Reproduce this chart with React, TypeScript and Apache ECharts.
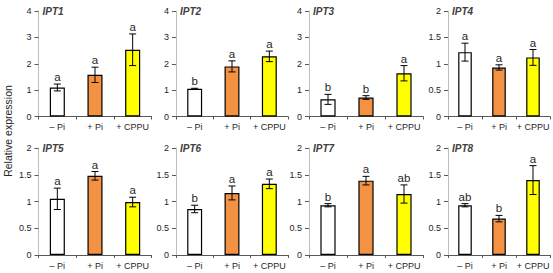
import React, { useEffect, useRef } from "react";
import * as echarts from "echarts";

const categories = ["– Pi", "+ Pi", "+ CPPU"];
const genes = ["IPT1", "IPT2", "IPT3", "IPT4", "IPT5", "IPT6", "IPT7", "IPT8"];

const ipt1Values = [1.1, 1.58, 2.53];
const ipt1Errors = [0.13, 0.29, 0.6];
const ipt1Letters = ["a", "a", "a"];

const ipt2Values = [1.05, 1.9, 2.28];
const ipt2Errors = [0.02, 0.21, 0.2];
const ipt2Letters = ["b", "a", "a"];

const ipt3Values = [0.65, 0.72, 1.64];
const ipt3Errors = [0.19, 0.07, 0.29];
const ipt3Letters = ["b", "b", "a"];

const ipt4Values = [1.22, 0.93, 1.12];
const ipt4Errors = [0.17, 0.05, 0.15];
const ipt4Letters = ["a", "a", "a"];

const ipt5Values = [1.05, 1.48, 0.99];
const ipt5Errors = [0.2, 0.08, 0.09];
const ipt5Letters = ["a", "a", "a"];

const ipt6Values = [0.86, 1.16, 1.33];
const ipt6Errors = [0.07, 0.13, 0.09];
const ipt6Letters = ["b", "a", "a"];

const ipt7Values = [0.93, 1.39, 1.14];
const ipt7Errors = [0.03, 0.08, 0.17];
const ipt7Letters = ["b", "a", "ab"];

const ipt8Values = [0.93, 0.68, 1.4];
const ipt8Errors = [0.03, 0.06, 0.27];
const ipt8Letters = ["ab", "b", "a"];

const yMaxes = [4, 4, 4, 2, 2, 2, 2, 2];
const yIntervals = [1, 1, 1, 0.5, 0.5, 0.5, 0.5, 0.5];

const allValues = [ipt1Values, ipt2Values, ipt3Values, ipt4Values, ipt5Values, ipt6Values, ipt7Values, ipt8Values];
const allErrors = [ipt1Errors, ipt2Errors, ipt3Errors, ipt4Errors, ipt5Errors, ipt6Errors, ipt7Errors, ipt8Errors];
const allLetters = [ipt1Letters, ipt2Letters, ipt3Letters, ipt4Letters, ipt5Letters, ipt6Letters, ipt7Letters, ipt8Letters];

const barColors = ["#ffffff", "#f39243", "#ffff00"];

const colLeft = [38.5, 176, 309, 448];
const colWidth = [113, 112, 114, 102];
const rowTop = [11, 148];
const rowHeight = [105.5, 107];

const FONT = "Liberation Sans, Arial, sans-serif";

export default function App() {
  const ref = useRef<HTMLDivElement>(null);
  useEffect(() => {
    if (!ref.current) return;
    const chart = echarts.init(ref.current, undefined, { renderer: "svg" });
    const grid: any[] = [];
    const xAxis: any[] = [];
    const yAxis: any[] = [];
    const series: any[] = [];
    const title: any[] = [];
    genes.forEach((g, i) => {
      const r = Math.floor(i / 4);
      const c = i % 4;
      grid.push({
        left: colLeft[c],
        top: rowTop[r],
        width: colWidth[c],
        height: rowHeight[r],
        containLabel: false,
      });
      xAxis.push({
        type: "category",
        gridIndex: i,
        data: categories,
        axisLine: { lineStyle: { color: "#595959", width: 1 } },
        axisTick: { show: true, length: 3, lineStyle: { color: "#595959" } },
        axisLabel: { color: "#262626", fontSize: 9, fontFamily: FONT, margin: 6, interval: 0 },
      });
      yAxis.push({
        type: "value",
        gridIndex: i,
        min: 0,
        max: yMaxes[i],
        interval: yIntervals[i],
        splitLine: { show: false },
        axisLine: { show: true, lineStyle: { color: "#bfbfbf", width: 1 } },
        axisTick: { show: true, length: 4, lineStyle: { color: "#595959" } },
        axisLabel: { color: "#262626", fontSize: 9, fontFamily: FONT, margin: 7 },
      });
      series.push({
        type: "bar",
        xAxisIndex: i,
        yAxisIndex: i,
        barWidth: "40%",
        data: allValues[i].map((v, k) => ({
          value: v,
          itemStyle: { color: barColors[k], borderColor: "#000", borderWidth: 1.2 },
        })),
      });
      series.push({
        type: "custom",
        xAxisIndex: i,
        yAxisIndex: i,
        z: 5,
        data: allValues[i].map((v, k) => [k, v, allErrors[i][k], allLetters[i][k]]),
        encode: { x: 0, y: 1 },
        renderItem: (params: any, api: any) => {
          const k = api.value(0);
          const v = api.value(1);
          const e = api.value(2);
          const letter = allLetters[i][params.dataIndex];
          const top = api.coord([k, v + e]);
          const bot = api.coord([k, v - e]);
          const cap = 3.5;
          return {
            type: "group",
            children: [
              { type: "line", shape: { x1: top[0], y1: top[1], x2: bot[0], y2: bot[1] }, style: { stroke: "#000", lineWidth: 1 } },
              { type: "line", shape: { x1: top[0] - cap, y1: top[1], x2: top[0] + cap, y2: top[1] }, style: { stroke: "#000", lineWidth: 1 } },
              { type: "line", shape: { x1: bot[0] - cap, y1: bot[1], x2: bot[0] + cap, y2: bot[1] }, style: { stroke: "#000", lineWidth: 1 } },
              {
                type: "text",
                x: top[0],
                y: top[1] - 1,
                style: {
                  text: letter,
                  fill: "#262626",
                  fontSize: 11.5,
                  fontFamily: FONT,
                  align: "center",
                  verticalAlign: "bottom",
                },
              },
            ],
          };
        },
      });
      title.push({
        text: g,
        left: colLeft[c] + 4,
        top: rowTop[r] - 5,
        textStyle: { fontSize: 10, fontStyle: "italic", fontWeight: "bold", color: "#404040", fontFamily: FONT },
        padding: 0,
      });
    });
    chart.setOption({
      animation: false,
      backgroundColor: "#ffffff",
      title,
      grid,
      xAxis,
      yAxis,
      series,
      graphic: [
        {
          type: "text",
          x: 8,
          y: 131,
          rotation: Math.PI / 2,
          style: {
            text: "Relative expression",
            fill: "#262626",
            fontSize: 10.5,
            fontFamily: FONT,
            align: "center",
            verticalAlign: "middle",
          },
        },
      ],
    });
    return () => chart.dispose();
  }, []);
  return <div ref={ref} style={{ width: 553, height: 273, position: "absolute", left: 0, top: 0 }} />;
}
